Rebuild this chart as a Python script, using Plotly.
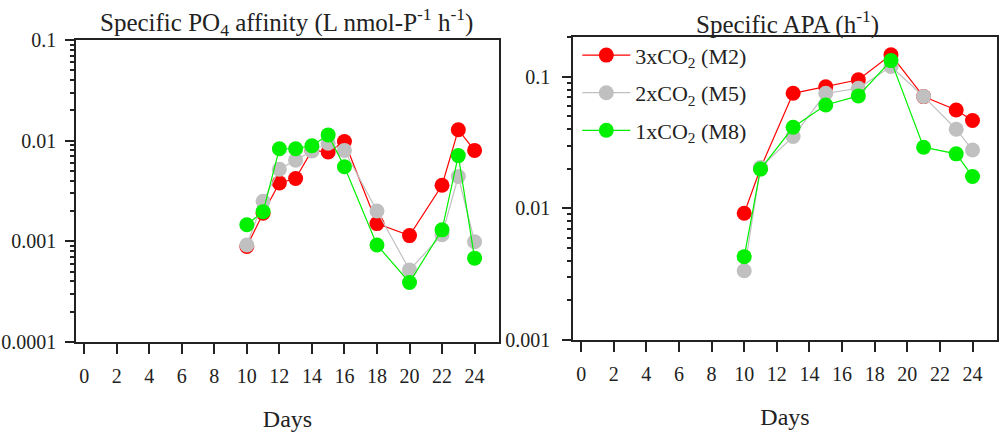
import plotly.graph_objects as go

# ---- data ----
days_left = [10, 11, 12, 13, 14, 15, 16, 18, 20, 22, 23, 24]
po4_m2 = [0.00089, 0.0019, 0.0038, 0.0042, 0.0080, 0.0077, 0.0098, 0.0015, 0.00114, 0.0036, 0.0128, 0.0080]
po4_m5 = [0.00092, 0.0025, 0.0052, 0.0064, 0.0079, 0.0094, 0.0080, 0.0020, 0.00052, 0.00116, 0.0044, 0.00099]
po4_m8 = [0.00146, 0.00197, 0.0083, 0.0083, 0.0089, 0.0114, 0.0055, 0.00092, 0.00039, 0.0013, 0.0071, 0.00068]

days_right = [10, 11, 13, 15, 17, 19, 21, 23, 24]
apa_m2 = [0.0092, 0.0202, 0.075, 0.084, 0.095, 0.147, 0.0708, 0.056, 0.0466]
apa_m5 = [0.00336, 0.0205, 0.0352, 0.075, 0.082, 0.12, 0.071, 0.040, 0.0278]
apa_m8 = [0.0043, 0.0199, 0.0414, 0.0612, 0.0717, 0.133, 0.0292, 0.026, 0.0175]

series_names = ["3xCO<sub>2</sub> (M2)", "2xCO<sub>2</sub> (M5)", "1xCO<sub>2</sub> (M8)"]
series_colors = ["#FF0000", "#C0C0C0", "#00F000"]

x_ticks = list(range(0, 25, 2))
left_yticks = [0.0001, 0.001, 0.01, 0.1]
left_yticktext = ["0.0001", "0.001", "0.01", "0.1"]
right_yticks = [0.001, 0.01, 0.1]
right_yticktext = ["0.001", "0.01", "0.1"]

FONT = "Liberation Serif"

fig = go.Figure()

left_series = [po4_m2, po4_m5, po4_m8]
right_series = [apa_m2, apa_m5, apa_m8]

for i, (name, col) in enumerate(zip(series_names, series_colors)):
    fig.add_trace(go.Scatter(
        x=days_left, y=left_series[i], mode="lines+markers", name=name,
        line=dict(color=col, width=1.2), marker=dict(color=col, size=15),
        xaxis="x", yaxis="y", showlegend=False, legendgroup=f"g{i}"))
for i, (name, col) in enumerate(zip(series_names, series_colors)):
    fig.add_trace(go.Scatter(
        x=days_right, y=right_series[i], mode="lines+markers", name=name,
        line=dict(color=col, width=1.2), marker=dict(color=col, size=15),
        xaxis="x2", yaxis="y2", showlegend=True, legendgroup=f"g{i}"))

def minor_vals(lo, hi):
    vals = []
    for e in range(lo, hi):
        for k in range(2, 10):
            vals.append(k * 10 ** e)
    return vals

axis_common = dict(showgrid=False, zeroline=False, showline=True, linecolor="#222",
                   linewidth=1.5, mirror=True, ticks="outside", tickcolor="#222",
                   automargin=False,
                   tickfont=dict(family=FONT, size=20, color="#222"))

xcommon = dict(axis_common, range=[-0.5, 25.5], tickvals=x_ticks, ticklen=10, tickwidth=1.5,
               ticklabelstandoff=5,
               title=dict(text="Days", font=dict(family=FONT, size=24, color="#222"), standoff=24))

fig.update_layout(
    width=1004, height=434,
    margin=dict(l=0, r=0, t=0, b=0),
    paper_bgcolor="white", plot_bgcolor="white",
    font=dict(family=FONT, color="#222"),
    xaxis=dict(xcommon, domain=[0.0757, 0.497], anchor="y"),
    xaxis2=dict(xcommon, domain=[0.5707, 0.993], anchor="y2"),
    yaxis=dict(axis_common, type="log", range=[-4, -1], domain=[0.212, 0.908], anchor="x",
               tickvals=left_yticks, ticktext=left_yticktext, ticklen=9, tickwidth=1.5,
               ticklabelstandoff=5,
               minor=dict(tickvals=minor_vals(-4, -1), ticks="outside", ticklen=4,
                          tickcolor="#222", showgrid=False)),
    yaxis2=dict(axis_common, type="log", range=[-3, -0.697], domain=[0.2166, 0.9147], anchor="x2",
                tickvals=right_yticks, ticktext=right_yticktext, ticklen=9, tickwidth=1.5,
                ticklabelstandoff=8,
                minor=dict(tickvals=minor_vals(-3, 0), ticks="outside", ticklen=4,
                           tickcolor="#222", showgrid=False)),
    legend=dict(x=0.575, y=0.921, xanchor="left", yanchor="top", bgcolor="rgba(0,0,0,0)",
                itemwidth=48,
                font=dict(family=FONT, size=22, color="#222"), tracegroupgap=6),
    annotations=[
        dict(text="Specific PO<sub>4</sub> affinity (L nmol-P<sup>-1</sup> h<sup>-1</sup>)",
             x=286 / 1004, y=1 - 22 / 434, xref="paper", yref="paper", showarrow=False,
             font=dict(family=FONT, size=25, color="#222"), xanchor="center", yanchor="middle"),
        dict(text="Specific APA (h<sup>-1</sup>)",
             x=787 / 1004, y=1 - 22 / 434, xref="paper", yref="paper", showarrow=False,
             font=dict(family=FONT, size=25, color="#222"), xanchor="center", yanchor="middle"),
    ],
)

fig.write_html("out.html")
